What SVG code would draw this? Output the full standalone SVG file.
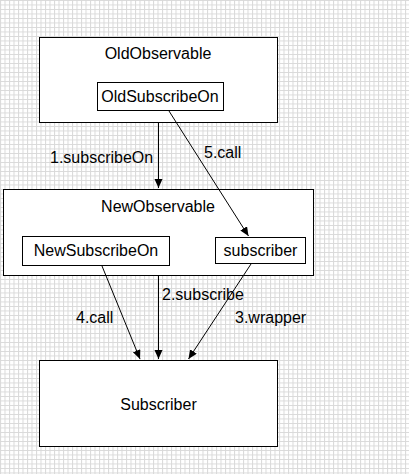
<svg xmlns="http://www.w3.org/2000/svg" width="409" height="474" viewBox="0 0 409 474">
  <defs>
    <pattern id="grid" width="4.5" height="4.5" patternUnits="userSpaceOnUse">
      <rect width="4.5" height="4.5" fill="#ffffff"/>
      <path d="M0 0.5H4.5M0.5 0V4.5" stroke="#d9d9d9" stroke-width="1" fill="none"/>
    </pattern>
    <marker id="arrow" markerWidth="10" markerHeight="10" refX="9" refY="4" orient="auto" markerUnits="userSpaceOnUse">
      <path d="M0 0L9 4L0 8Z" fill="#000"/>
    </marker>
  </defs>
  <style>
    .box { fill: #ffffff; stroke: #000000; stroke-width: 1; }
    .lbl { font-family: "Liberation Sans", Arial, sans-serif; font-size: 16px; fill: #000000; }
    .c { text-anchor: middle; }
    .edge { stroke: #000000; stroke-width: 1; fill: none; marker-end: url(#arrow); }
  </style>
  <rect x="0" y="0" width="409" height="474" fill="url(#grid)"/>

  <g id="OldObservable">
    <rect class="box" x="39.5" y="37.5" width="238" height="85"/>
    <text class="lbl c" x="158" y="59">OldObservable</text>
  </g>
  <g id="OldSubscribeOn">
    <rect class="box" x="97.5" y="82.5" width="126" height="28"/>
    <text class="lbl c" x="160" y="102">OldSubscribeOn</text>
  </g>
  <g id="NewObservable">
    <rect class="box" x="3.5" y="189.5" width="310" height="86"/>
    <text class="lbl c" x="158" y="211.5">NewObservable</text>
  </g>
  <g id="NewSubscribeOn">
    <rect class="box" x="22.5" y="236.5" width="147" height="29"/>
    <text class="lbl c" x="96" y="255.5">NewSubscribeOn</text>
  </g>
  <g id="subscriber">
    <rect class="box" x="215.5" y="237.5" width="90" height="26"/>
    <text class="lbl c" x="260.5" y="255.5">subscriber</text>
  </g>
  <g id="Subscriber">
    <rect class="box" x="39.5" y="360.5" width="238" height="86"/>
    <text class="lbl c" x="158.5" y="410">Subscriber</text>
  </g>

  <g id="connectors">
    <line class="edge" x1="158.5" y1="123" x2="158.5" y2="188"/>
    <line class="edge" x1="169" y1="111" x2="248.5" y2="236"/>
    <line class="edge" x1="158.5" y1="276" x2="158.5" y2="359"/>
    <line class="edge" x1="102" y1="266" x2="140" y2="359"/>
    <line class="edge" x1="251" y1="264" x2="188.5" y2="359"/>
    <text class="lbl" x="50" y="163">1.subscribeOn</text>
    <text class="lbl" x="204" y="158">5.call</text>
    <text class="lbl" x="162" y="300">2.subscribe</text>
    <text class="lbl" x="76" y="323">4.call</text>
    <text class="lbl" x="235" y="323">3.wrapper</text>
  </g>
</svg>
